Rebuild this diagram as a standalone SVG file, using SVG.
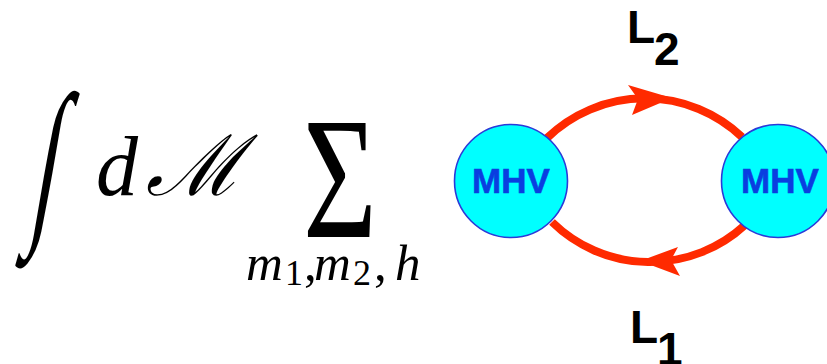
<svg xmlns="http://www.w3.org/2000/svg" width="827" height="364" viewBox="0 0 827 364">
<style>
.math{font-family:"Liberation Serif","DejaVu Serif",serif;fill:#000}
.it{font-style:italic}
.lbl{font-family:"Liberation Sans",Arial,sans-serif;font-weight:bold;fill:#000;font-size:46px}
.node circle{fill:#00ffff;stroke:#2a3ad8;stroke-width:1.6}
.node text{font-family:"Liberation Sans",Arial,sans-serif;font-weight:bold;fill:#0a3ee0;font-size:35px;text-anchor:middle;stroke:#0a3ee0;stroke-width:0.6}
.edge{fill:none;stroke:#ff2a00;stroke-width:8}
.head{fill:#ff2a00}
</style>
<g id="formula">
<text class="math" transform="translate(28,220) skewX(-10) scale(0.5,1)" font-size="181">∫</text>
<text class="math it" x="96" y="195" font-size="84">d</text>
<text class="math it" x="146" y="195" font-size="84">ℳ</text>
<text class="math" transform="translate(303,237) scale(1,1.36)" font-size="127">Σ</text>
<text class="math" font-size="51" y="280"><tspan class="it" x="246">m</tspan><tspan x="285" y="285" font-size="36">1</tspan><tspan x="304" y="280">,</tspan><tspan class="it" x="314">m</tspan><tspan x="353" y="285" font-size="36">2</tspan><tspan x="374" y="280">,</tspan><tspan class="it" x="395">h</tspan></text>
</g>
<g id="connectors">
<path class="edge" d="M547,138 A141,141 0 0,1 742,137"/>
<path class="head" d="M672,98 L628,85 L638,99 L632,115 Z"/>
<path class="edge" d="M552,222 A140,140 0 0,0 745,225"/>
<path class="head" d="M640,261 L678,247 L671,260 L680,276 Z"/>
</g>
<g id="node-left" class="node">
<circle cx="511" cy="181" r="56.5"/>
<text x="511" y="193">MHV</text>
</g>
<g id="node-right" class="node">
<circle cx="778" cy="181" r="56.5"/>
<text x="780" y="193">MHV</text>
</g>
<g id="label-L2"><text class="lbl" x="627" y="43">L<tspan x="654" y="65">2</tspan></text></g>
<g id="label-L1"><text class="lbl" x="630" y="343">L<tspan x="657" y="365">1</tspan></text></g>
</svg>
